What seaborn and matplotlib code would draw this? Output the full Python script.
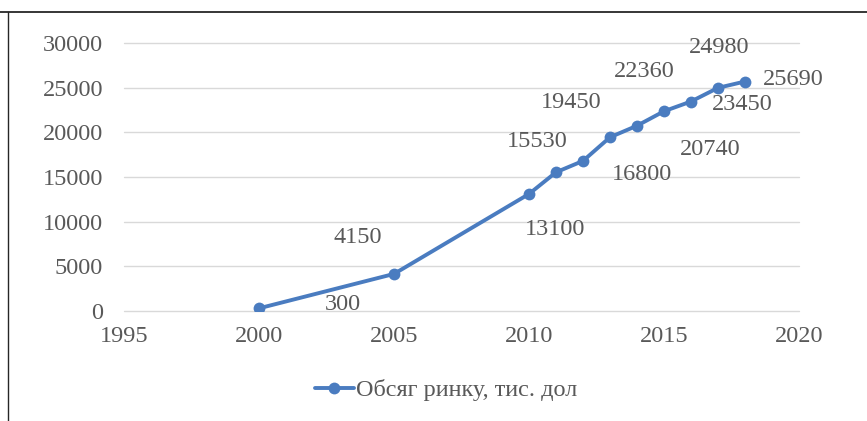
import matplotlib
matplotlib.use("Agg")
import matplotlib.pyplot as plt
import seaborn as sns
import pandas as pd
from matplotlib.lines import Line2D

years = [2000, 2005, 2010, 2011, 2012, 2013, 2014, 2015, 2016, 2017, 2018]
values = [300, 4150, 13100, 15530, 16800, 19450, 20740, 22360, 23450, 24980, 25690]
series_name = "Обсяг ринку, тис. дол"
x_ticks = [1995, 2000, 2005, 2010, 2015, 2020]
y_ticks = [0, 5000, 10000, 15000, 20000, 25000, 30000]

# label offsets in pixels (dx, dy up) relative to each point
label_offsets = [(84, 4), (-36, 36), (26, -36), (-19, 31), (59, -14), (-39, 35),
                 (73, -24), (-20, 40), (51, -3), (1, 40), (48, 2)]

sns.set_theme(style="white")
plt.rcParams['font.family'] = ['Liberation Serif', 'DejaVu Serif']

text_color = "#595959"
line_color = "#4A7CC0"

df = pd.DataFrame({"year": years, "value": values, "series": series_name})

fig = plt.figure(figsize=(8.67, 4.21), dpi=100)
ax = fig.add_axes([124/867, 1-311/421, (799-124)/867, (311-43)/421])

sns.lineplot(data=df, x="year", y="value", hue="series", palette=[line_color],
             marker="o", markersize=8.5, markeredgewidth=0, linewidth=2.8, ax=ax,
             legend=True)

ax.set_xlim(1995, 2020)
ax.set_ylim(0, 30000)
ax.set_xticks(x_ticks)
ax.set_yticks(y_ticks)
ax.set_xticklabels([str(t) for t in x_ticks])
ax.set_yticklabels([str(t) for t in y_ticks])
ax.set_xlabel("")
ax.set_ylabel("")
ax.grid(axis="y", color="#D9D9D9", linewidth=1.0)
ax.grid(axis="x", visible=False)
ax.set_axisbelow(True)
for gl in ax.get_ygridlines():
    gl.set_clip_on(False)
for s in ax.spines.values():
    s.set_visible(False)
ax.tick_params(axis="y", pad=15, labelsize=17.5, labelcolor=text_color, length=0)
ax.tick_params(axis="x", pad=11, labelsize=17.5, labelcolor=text_color, length=0)

for x, y, (dx, dy) in zip(years, values, label_offsets):
    ax.annotate(str(y), xy=(x, y), xytext=(dx, dy), textcoords="offset pixels",
                ha="center", va="center", fontsize=17.5, color=text_color)

handles, labels = ax.get_legend_handles_labels()
ax.get_legend().remove()
leg = fig.legend(handles, labels, loc="center", bbox_to_anchor=(446/867, 1-390/421),
                 frameon=False, fontsize=17.5, handlelength=1.6, handletextpad=0.1,
                 labelcolor=text_color)

# outer border lines (top and left)
fig.add_artist(Line2D([0, 1], [1-11.5/421, 1-11.5/421], transform=fig.transFigure,
                      color="#262626", linewidth=1.3))
fig.add_artist(Line2D([8/867, 8/867], [0, 1-11.5/421], transform=fig.transFigure,
                      color="#262626", linewidth=1.0))

fig.savefig("out.png", dpi=100)
